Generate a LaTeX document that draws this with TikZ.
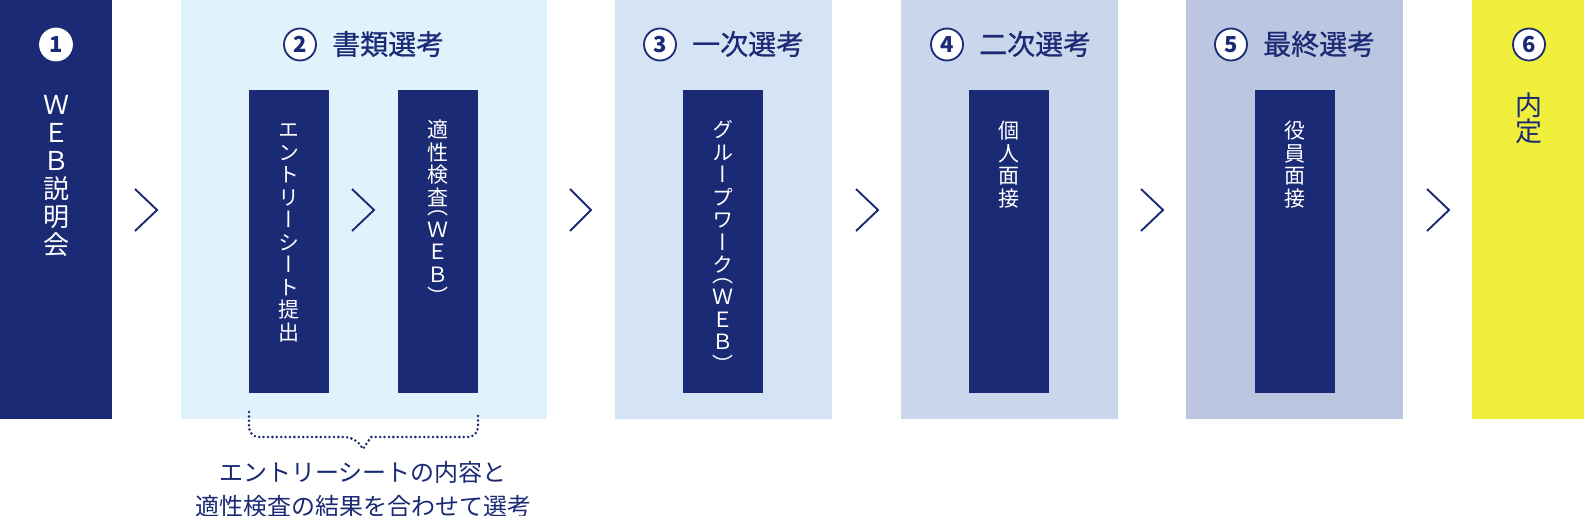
\documentclass[tikz,border=0pt]{standalone}
\usepackage{fontspec}
\setmainfont{Noto Sans CJK JP}
\newfontfamily\vjp{Noto Sans CJK JP}[RawFeature=+vert]
\newfontfamily\tjp{Noto Sans CJK JP}[FakeBold=0.7]
\usetikzlibrary{calc}
\definecolor{navy}{HTML}{1B2A74}
\definecolor{bgA}{HTML}{E0F3FD}
\definecolor{bgB}{HTML}{D5E4F4}
\definecolor{bgC}{HTML}{C9D6EC}
\definecolor{bgD}{HTML}{BCC6E1}
\definecolor{bgE}{HTML}{F0F03C}
\begin{document}
\begin{tikzpicture}[x=1pt,y=-1pt,
  colbox/.style={anchor=north west, inner sep=0pt, outer sep=0pt, minimum height=419pt},
  stepbox/.style={fill=navy, anchor=north west, inner sep=0pt, outer sep=0pt, minimum width=80pt, minimum height=303pt},
  num/.style={circle, draw=navy, line width=1.8pt, fill=white, minimum size=32pt, inner sep=0pt, text=navy, font=\fontsize{22}{22}\selectfont\bfseries},
  title/.style={anchor=west, inner sep=0pt, text=navy, font=\tjp\fontsize{28}{28}\selectfont},
  vtext/.style={anchor=north, inner sep=0pt, align=center, text=white, font=\vjp\fontsize{21}{22.5}\selectfont},
  chev/.style={draw=navy, line width=1.9pt},
  dotbr/.style={draw=navy, line width=2.8pt, line cap=round, dash pattern=on 0pt off 4.4pt}
]
\useasboundingbox (0,0) rectangle (1584,516);
\fill[white] (0,0) rectangle (1584,516);

% columns
\node[colbox, fill=navy, minimum width=112pt] (c1) at (0,0) {};
\node[colbox, fill=bgA, minimum width=366pt] (c2) at (181,0) {};
\node[colbox, fill=bgB, minimum width=217pt] (c3) at (615,0) {};
\node[colbox, fill=bgC, minimum width=217pt] (c4) at (901,0) {};
\node[colbox, fill=bgD, minimum width=217pt] (c5) at (1186,0) {};
\node[colbox, fill=bgE, minimum width=112pt] (c6) at (1472,0) {};

% step boxes
\node[stepbox] (b21) at (249,90) {};
\node[stepbox] (b22) at (398,90) {};
\node[stepbox] (b3) at (683,90) {};
\node[stepbox] (b4) at (969,90) {};
\node[stepbox] (b5) at (1255,90) {};

% numbers and titles
\node[num, draw=white] (n1) at (56,44.5) {1};
\node[num] (n2) at (300,44.5) {2};
\node[num] (n3) at (660,44.5) {3};
\node[num] (n4) at (947,44.5) {4};
\node[num] (n5) at (1231,44.5) {5};
\node[num] (n6) at (1529,44.5) {6};
\node[title] (h2) at (332,44) {書類選考};
\node[title] (h3) at (692,44) {一次選考};
\node[title] (h4) at (979,44) {二次選考};
\node[title] (h5) at (1263,44) {最終選考};

% vertical texts
\node[vtext, font=\vjp\fontsize{26}{28}\selectfont] (t1) at (56,95) {Ｗ\\Ｅ\\Ｂ\\説\\明\\会};
\node[vtext, text=navy, font=\vjp\fontsize{27}{26}\selectfont] (t6) at (1529,93) {内\\定};
\node[vtext] (t21) at (b21.north |- 0,124) {エ\\ン\\ト\\リ\\ー\\シ\\ー\\ト\\提\\出};
\node[vtext] (t22) at (b22.north |- 0,120) {適\\性\\検\\査\\[-13pt]（\\Ｗ\\Ｅ\\Ｂ\\）};
\node[vtext] (t3) at (b3.north |- 0,120) {グ\\ル\\ー\\プ\\ワ\\ー\\ク\\[-13pt]（\\Ｗ\\Ｅ\\Ｂ\\）};
\node[vtext] (t4) at (b4.north |- 0,121) {個\\人\\面\\接};
\node[vtext] (t5) at (b5.north |- 0,121) {役\\員\\面\\接};

% chevrons
\draw[chev] (135,189) -- (157,210) -- (135,231);
\draw[chev] (352,189) -- (374,210) -- (352,231);
\draw[chev] (570,189) -- (591,210) -- (570,231);
\draw[chev] (856,189) -- (878,210) -- (856,231);
\draw[chev] (1141,189) -- (1163,210) -- (1141,231);
\draw[chev] (1427,189) -- (1449,210) -- (1427,231);

% dotted bracket
\coordinate (brL) at ($(b21.south west)+(0,19)$);
\coordinate (brR) at ($(b22.south east)+(0,19)$);
\coordinate (tip) at (363,449);
\draw[dotbr, rounded corners=10pt] (brL) |- (355,437) [sharp corners] -- (tip) -- (371,437) [rounded corners=10pt] -| (brR);

\node[text=navy, align=center, inner sep=0pt, font=\fontsize{24}{34}\selectfont] (note) at (363,489) {エントリーシートの内容と\\適性検査の結果を合わせて選考};
\end{tikzpicture}
\end{document}
